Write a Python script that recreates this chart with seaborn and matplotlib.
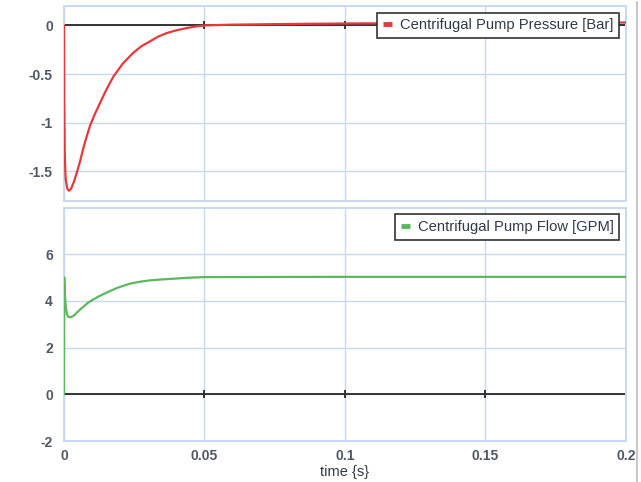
import numpy as np
import pandas as pd
import matplotlib
matplotlib.use("Agg")
import matplotlib.pyplot as plt
from matplotlib.lines import Line2D
import seaborn as sns

# Transient response of a centrifugal pump after start-up
time_pressure = [0, 0.0001, 0.0003, 0.0006, 0.0012, 0.0018, 0.0025, 0.0035, 0.0045,
                 0.0057, 0.0069, 0.0081, 0.0093, 0.011, 0.0128, 0.015, 0.0176, 0.021,
                 0.0247, 0.0275, 0.0306, 0.0335, 0.0366, 0.040, 0.0437, 0.047, 0.05,
                 0.06, 0.08, 0.1, 0.125, 0.15, 0.175, 0.2]
pressure_bar = [0, -0.78, -1.35, -1.58, -1.68, -1.70, -1.68, -1.61, -1.52,
                -1.40, -1.26, -1.14, -1.03, -0.91, -0.80, -0.665, -0.525, -0.39,
                -0.28, -0.215, -0.164, -0.115, -0.078, -0.05, -0.027, -0.01, 0.0,
                0.008, 0.015, 0.02, 0.024, 0.027, 0.029, 0.03]

time_flow = [0, 0.0001, 0.0003, 0.0006, 0.001, 0.0015, 0.0022, 0.0033, 0.005, 0.0069,
             0.0085, 0.0104, 0.0125, 0.0152, 0.019, 0.0235, 0.027, 0.0306, 0.035,
             0.0389, 0.044, 0.05, 0.1, 0.15, 0.2]
flow_gpm = [0, 5.0, 4.3, 3.8, 3.45, 3.32, 3.3, 3.35, 3.55, 3.75,
            3.92, 4.06, 4.2, 4.36, 4.56, 4.74, 4.82, 4.88, 4.92,
            4.95, 4.99, 5.02, 5.03, 5.03, 5.03]

x_ticks = [0, 0.05, 0.1, 0.15, 0.2]
x_tick_labels = ["0", "0.05", "0.1", "0.15", "0.2"]
pressure_ticks = [0, -0.5, -1, -1.5]
pressure_tick_labels = ["0", "-0.5", "-1", "-1.5"]
flow_ticks = [-2, 0, 2, 4, 6]
flow_tick_labels = ["-2", "0", "2", "4", "6"]

pressure_label = "Centrifugal Pump Pressure [Bar]"
flow_label = "Centrifugal Pump Flow [GPM]"

sns.set_style("white")
plt.rcParams["font.family"] = ["Liberation Sans", "DejaVu Sans"]

RED = "#e8383d"
GREEN = "#5cb85c"
GRID = "#c6d9ef"
TICK_TEXT = "#4f5966"
LEGEND_TEXT = "#2f3a48"

fig = plt.figure(figsize=(6.41, 4.82), dpi=100)
ax_p = fig.add_axes([0.0998, 0.584, 0.8768, 0.4036])
ax_f = fig.add_axes([0.0998, 0.085, 0.8768, 0.4845])

df_p = pd.DataFrame({"time": time_pressure, "value": pressure_bar})
df_f = pd.DataFrame({"time": time_flow, "value": flow_gpm})


def style_axes(ax, yticks, ylabels, ylim):
    ax.set_xlim(0, 0.2)
    ax.set_ylim(*ylim)
    ax.set_xticks(x_ticks)
    ax.set_yticks(yticks)
    ax.set_yticklabels(ylabels)
    ax.grid(True, color=GRID, linewidth=1.0)
    ax.set_axisbelow(True)
    for sp in ax.spines.values():
        sp.set_color(GRID)
        sp.set_linewidth(1.4)
        sp.set_visible(True)
    ax.tick_params(axis="both", length=0, pad=8, labelsize=10,
                   labelcolor=TICK_TEXT)
    for lbl in ax.get_yticklabels():
        lbl.set_fontweight("bold")
    # zero line with small tick marks at the time gridlines
    ax.axhline(0, color="#333333", linewidth=1.4, zorder=2)
    ax.plot(x_ticks[1:-1], [0] * (len(x_ticks) - 2), linestyle="none",
            marker="|", markersize=6, markeredgewidth=1.4, color="#333333",
            zorder=2)
    ax.set_xlabel("")
    ax.set_ylabel("")


def add_legend(ax, label, color):
    handle = Line2D([0], [0], color=color, linewidth=3.5, solid_capstyle="butt")
    leg = ax.legend([handle], [label], loc="upper right", fontsize=10.6,
                    frameon=True, fancybox=False, handlelength=0.6,
                    handletextpad=0.55, borderpad=0.4, borderaxespad=0.45,
                    labelcolor=LEGEND_TEXT)
    leg.get_frame().set_edgecolor("#333333")
    leg.get_frame().set_linewidth(1.2)
    leg.get_frame().set_facecolor("white")
    leg.get_frame().set_alpha(1)
    leg.set_zorder(5)


sns.lineplot(data=df_p, x="time", y="value", ax=ax_p, color=RED,
             linewidth=1.6, zorder=3, legend=False)
style_axes(ax_p, pressure_ticks, pressure_tick_labels, (-1.8, 0.2))
ax_p.set_xticklabels([])
add_legend(ax_p, pressure_label, RED)

sns.lineplot(data=df_f, x="time", y="value", ax=ax_f, color=GREEN,
             linewidth=1.6, zorder=3, legend=False)
style_axes(ax_f, flow_ticks, flow_tick_labels, (-2, 8))
ax_f.set_xticklabels(x_tick_labels)
for lbl in ax_f.get_xticklabels():
    lbl.set_fontweight("bold")
ax_f.tick_params(axis="x", pad=6)
ax_f.set_xlabel("time {s}", fontsize=10.5, color=LEGEND_TEXT, labelpad=1)
add_legend(ax_f, flow_label, GREEN)

# thin frame line on the right edge of the panel
fig.add_artist(Line2D([636.5 / 641, 636.5 / 641], [0.0, 0.995],
                      transform=fig.transFigure, color="#c8c8c8", linewidth=1.5))

fig.savefig("out.png", dpi=100, facecolor="white")
